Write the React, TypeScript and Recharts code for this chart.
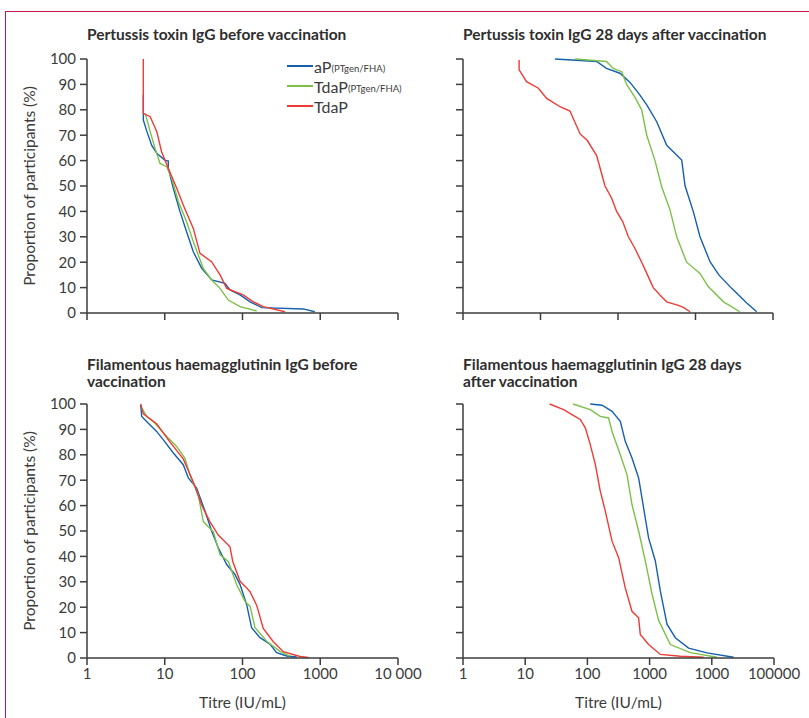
import { LineChart, Line, XAxis, YAxis } from "recharts";

type Pt = [number, number];

// reverse cumulative curves, [titre IU/mL, % of participants]
const ptBeforeAP: Pt[] = [[5.3, 86], [5.3, 76], [5.9, 71.4], [6.8, 66], [7.9, 62.9], [10, 60.2], [11.1, 59.8], [11.1, 57], [12.9, 49], [15.7, 39.9], [19.1, 32], [23.3, 24.1], [29.9, 17.6], [40.2, 13], [59.6, 11.7], [69, 9.1], [92.9, 7.1], [125, 4.4], [177, 2.1], [605, 1.6], [851, 0.5]];
const ptBeforeTdaPgen: Pt[] = [[5.6, 78.6], [6.5, 71.4], [7.5, 64.8], [8.7, 58.9], [10.6, 57.6], [12.3, 53], [15, 43.8], [19.1, 35.9], [23.3, 28.1], [27, 22.8], [31.3, 17.6], [40.2, 13], [51.4, 9.7], [65.7, 5.1], [93, 2.5], [152, 0.8]];
const ptBeforeTdaP: Pt[] = [[5.3, 100], [5.3, 78.6], [6.5, 77.3], [7.9, 71.4], [9.1, 63.5], [11.1, 57], [14.3, 49], [17.3, 42.5], [23.3, 33.3], [28.4, 23.5], [40, 20.2], [51.4, 15], [62.6, 9.7], [102, 7.1], [138, 4.4], [185, 2.5], [352, 0.5]];

const ptAfterAP: Pt[] = [[15.4, 100], [53, 99], [71, 96.3], [106, 94.4], [143, 90.8], [190, 86], [235, 81.9], [316, 75.3], [425, 66], [664, 60.2], [733, 50.1], [937, 39.9], [1143, 30], [1540, 20.2], [2000, 15], [2930, 9.7], [4620, 3.8], [6166, 0.5]];
const ptAfterTdaPgen: Pt[] = [[27.9, 100], [71, 99], [87, 96.3], [112, 95], [129, 90], [165, 85], [202, 80], [235, 70], [300, 60], [366, 49.7], [469, 40.6], [572, 30], [768, 20], [1143, 15.6], [1460, 10.4], [2300, 4.4], [3740, 0.5]];
const ptAfterTdaP: Pt[] = [[5.3, 99.6], [5.3, 95.7], [6.6, 91.1], [9.4, 88.5], [12, 84.5], [17.9, 81.2], [24, 79.5], [32.4, 70.5], [40, 68], [53, 62], [60, 56], [68, 50], [82.8, 45.2], [96, 40], [115, 36], [136, 30], [165, 25.5], [202, 20], [240, 15], [285, 10], [350, 7], [425, 4.4], [600, 3], [697, 2.2], [849, 0.5]];

const fhaBeforeAP: Pt[] = [[4.9, 99.7], [5.06, 95.1], [6.15, 92.4], [7.86, 89.2], [9.6, 85.9], [12.9, 80.7], [17.3, 76.1], [20.1, 70.9], [25.7, 66.9], [33, 57.8], [40.2, 49.9], [48.8, 43.4], [62.6, 36.8], [80, 32.9], [93, 28.9], [113, 21.1], [131, 11.9], [168, 8], [226, 5.4], [275, 2.1], [370, 0.8], [498, 0.4]];
const fhaBeforeTdaPgen: Pt[] = [[5.06, 98.4], [5.86, 95.1], [7.5, 92.4], [10.6, 87.2], [14.3, 83.2], [18.2, 78.6], [21, 72.1], [27, 64.2], [31.3, 53.7], [42.2, 49.7], [51.4, 40.6], [65.7, 38], [84, 28.9], [108, 22.2], [125, 20.3], [145, 11.9], [205, 6.6], [303, 2.6], [408, 0.7]];
const fhaBeforeTdaP: Pt[] = [[4.9, 100], [5.3, 96.1], [7.86, 92.2], [11.7, 85], [17.3, 78.4], [23.3, 69.3], [29.9, 60.1], [38.2, 53.6], [48.8, 48.4], [69, 43.8], [75, 38], [93, 30.2], [110, 28], [125, 26.1], [152, 20.8], [185, 11.6], [249, 6.4], [335, 2.5], [550, 0.6], [702, 0.2]];

const fhaAfterAP: Pt[] = [[111, 100], [172, 99.5], [249, 97.1], [338, 93.2], [406, 85.3], [521, 78.7], [666, 70.9], [801, 59.1], [963, 47.3], [1236, 38.2], [1486, 26.4], [1905, 13.3], [2590, 8], [4237, 3.9], [8370, 2], [22400, 0.3]];
const fhaAfterTdaPgen: Pt[] = [[58.7, 100], [111, 97.8], [161, 95.1], [219, 94.5], [249, 89.2], [338, 80], [433, 72.2], [521, 60.4], [666, 50], [853, 38.2], [1094, 25.2], [1397, 14.8], [2152, 5.3], [4508, 2.1], [12130, 0.3]];
const fhaAfterTdaP: Pt[] = [[24.7, 100], [41.4, 97.8], [56.5, 95.8], [76.9, 93.9], [92.5, 90.6], [111, 84.1], [134, 76.2], [161, 65.7], [194, 57.8], [249, 46], [318, 39.5], [406, 27.6], [521, 18.4], [666, 15.8], [708, 9.3], [963, 5.3], [1486, 1.4], [3119, 0.7], [7400, 0.3]];

const seriesNames = ["aP", "TdaP", "TdaP"];
const seriesSubs = ["(PTgen/FHA)", "(PTgen/FHA)", ""];
const seriesColors = ["#1560ad", "#7cc04a", "#ee3b35"];

const yTicks = [0, 10, 20, 30, 40, 50, 60, 70, 80, 90, 100];
const xTicksLeft = [1, 10, 100, 1000, 10000];
const xTicksRight = [1, 10, 100, 1000, 10000, 100000];
const xLabelsLeft = ["1", "10", "100", "1000", "10 000"];
const xLabelsRight = ["1", "10", "100", "1000", "1000", "100000"];

const FONT = "Lato, 'Open Sans', sans-serif";
const TEXT = "#3b3b3b";
const AXIS = "#3d3d3d";

const toRows = (pts: Pt[]) => pts.map(([titre, pct]) => ({ titre, pct }));

interface PanelProps {
  left: number;
  top: number;
  yAxisWidth: number;
  plotWidth: number;
  xAxisHeight: number;
  xMax: number;
  xTicks: number[];
  xLabels: string[];
  showYLabels: boolean;
  curves: Pt[][];
}

function Panel(p: PanelProps) {
  const width = p.yAxisWidth + p.plotWidth + 30;
  const height = 10 + 254 + p.xAxisHeight;
  return (
    <div style={{ position: "absolute", left: p.left, top: p.top }}>
      <LineChart width={width} height={height} margin={{ top: 10, right: 30, bottom: 0, left: 0 }}>
        <XAxis
          type="number"
          dataKey="titre"
          scale="log"
          domain={[1, p.xMax]}
          ticks={p.xTicks}
          interval={0}
          allowDataOverflow
          height={p.xAxisHeight}
          tickSize={7}
          tickMargin={3}
          tickFormatter={(_v: number, i: number) => p.xLabels[i] ?? ""}
          tick={{ fontSize: 15, fill: TEXT, fontFamily: FONT }}
          axisLine={{ stroke: AXIS, strokeWidth: 1.5 }}
          tickLine={{ stroke: AXIS, strokeWidth: 1.5 }}
          label={
            p.xLabels.length
              ? { value: "Titre (IU/mL)", position: "insideBottom", offset: 5, fontSize: 15.5, fill: TEXT, fontFamily: FONT }
              : undefined
          }
        />
        <YAxis
          type="number"
          domain={[0, 100]}
          ticks={yTicks}
          interval={0}
          width={p.yAxisWidth}
          tickSize={7}
          tickMargin={4}
          tickFormatter={(v: number) => (p.showYLabels ? String(v) : "")}
          tick={{ fontSize: 15, fill: TEXT, fontFamily: FONT }}
          axisLine={{ stroke: AXIS, strokeWidth: 1.5 }}
          tickLine={{ stroke: AXIS, strokeWidth: 1.5 }}
          label={
            p.showYLabels
              ? {
                  value: "Proportion of participants (%)",
                  angle: -90,
                  position: "insideLeft",
                  offset: 29,
                  fontSize: 15.5,
                  fill: TEXT,
                  fontFamily: FONT,
                  style: { textAnchor: "middle" },
                }
              : undefined
          }
        />
        {p.curves.map((c, i) => (
          <Line
            key={i}
            data={toRows(c)}
            dataKey="pct"
            type="linear"
            stroke={seriesColors[i]}
            strokeWidth={1.4}
            dot={false}
            activeDot={false}
            isAnimationActive={false}
          />
        ))}
      </LineChart>
    </div>
  );
}

const titleStyle = {
  position: "absolute" as const,
  fontFamily: FONT,
  fontWeight: 700,
  fontSize: 15.5,
  lineHeight: "17px",
  color: "#2e2e2e",
  whiteSpace: "nowrap" as const,
};

export default function App() {
  return (
    <div style={{ position: "absolute", left: 0, top: 0, width: 809, height: 718, background: "#fff", overflow: "hidden" }}>
      <div
        style={{
          position: "absolute",
          left: 5,
          top: 11,
          width: 810,
          height: 720,
          borderTop: "1.5px solid #c2174c",
          borderLeft: "1.5px solid #c2174c",
        }}
      />
      <div style={{ ...titleStyle, left: 87, top: 26 }}>Pertussis toxin IgG before vaccination</div>
      <div style={{ ...titleStyle, left: 463, top: 26 }}>Pertussis toxin IgG 28 days after vaccination</div>
      <div style={{ ...titleStyle, left: 87, top: 356 }}>
        Filamentous haemagglutinin IgG before
        <br />
        vaccination
      </div>
      <div style={{ ...titleStyle, left: 463, top: 356 }}>
        Filamentous haemagglutinin IgG 28 days
        <br />
        after vaccination
      </div>

      <Panel left={0} top={49} yAxisWidth={87} plotWidth={311} xAxisHeight={20} xMax={10000} xTicks={xTicksLeft} xLabels={[]} showYLabels curves={[ptBeforeAP, ptBeforeTdaPgen, ptBeforeTdaP]} />
      <Panel left={423} top={49} yAxisWidth={40} plotWidth={310} xAxisHeight={20} xMax={10000} xTicks={xTicksLeft} xLabels={[]} showYLabels={false} curves={[ptAfterAP, ptAfterTdaPgen, ptAfterTdaP]} />
      <Panel left={0} top={394} yAxisWidth={87} plotWidth={311} xAxisHeight={55} xMax={10000} xTicks={xTicksLeft} xLabels={xLabelsLeft} showYLabels curves={[fhaBeforeAP, fhaBeforeTdaPgen, fhaBeforeTdaP]} />
      <Panel left={423} top={394} yAxisWidth={40} plotWidth={311} xAxisHeight={55} xMax={100000} xTicks={xTicksRight} xLabels={xLabelsRight} showYLabels={false} curves={[fhaAfterAP, fhaAfterTdaPgen, fhaAfterTdaP]} />

      <div style={{ position: "absolute", left: 287, top: 56, fontFamily: FONT, color: TEXT }}>
        {seriesNames.map((n, i) => (
          <div key={i} style={{ display: "flex", alignItems: "center", height: 20 }}>
            <span style={{ display: "inline-block", width: 26, height: 2, background: seriesColors[i], marginRight: 1 }} />
            <span style={{ fontSize: 16 }}>{n}</span>
            <span style={{ fontSize: 9.5, marginTop: 4 }}>{seriesSubs[i]}</span>
          </div>
        ))}
      </div>
    </div>
  );
}
